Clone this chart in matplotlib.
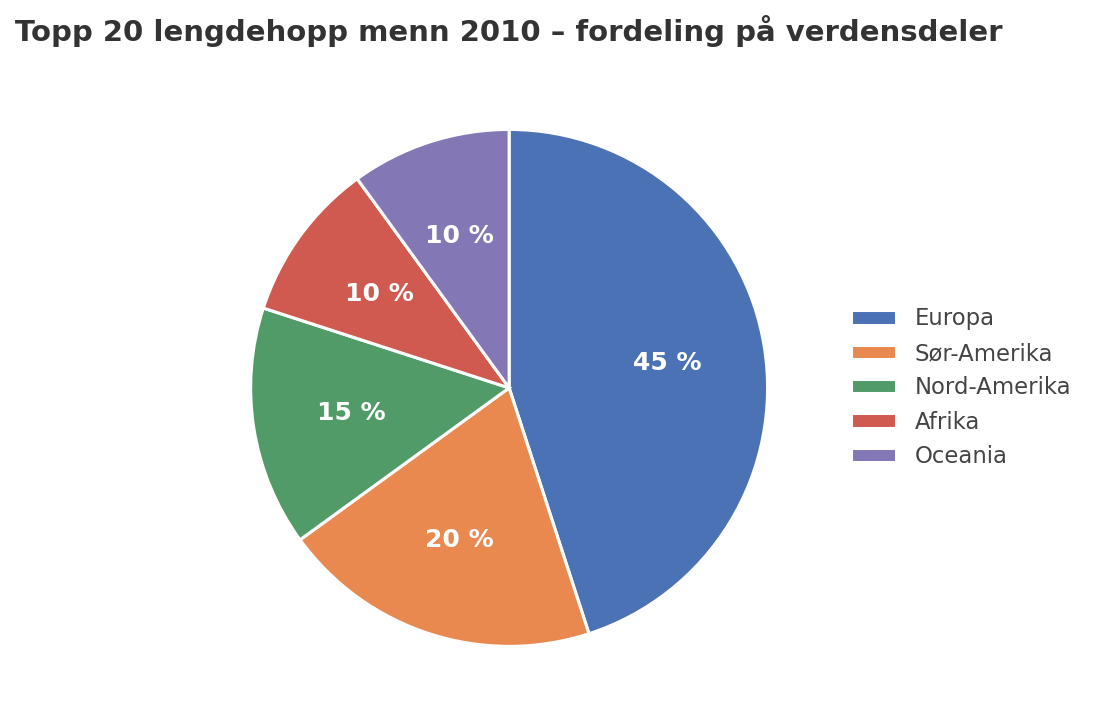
import matplotlib.pyplot as plt

# top 20 long jump men 2010, by continent
regions = ["Europa", "Sør-Amerika", "Nord-Amerika", "Afrika", "Oceania"]
counts = [9, 4, 3, 2, 2]

colors = ["#4A72B5", "#E9894F", "#519B68", "#D05A50", "#8377B6"]

fig = plt.figure(figsize=(10.97, 7.26), dpi=100)
ax = fig.add_axes([0.1696, 0.0207, 0.589, 0.89])

wedges, texts, autotexts = ax.pie(
    counts, colors=colors, startangle=90, counterclock=False,
    autopct=lambda p: "%d %%" % round(p), pctdistance=0.62,
    wedgeprops=dict(edgecolor="white", linewidth=2.2),
    textprops=dict(color="white", fontsize=18, fontweight="bold"))
ax.set_aspect("equal")

fig.text(0.014, 0.957, "Topp 20 lengdehopp menn 2010 – fordeling på verdensdeler",
         fontsize=21, fontweight="bold", color="#333333", ha="left", va="center")

fig.legend(wedges, regions, loc="center left", bbox_to_anchor=(0.757, 0.466),
           frameon=False, fontsize=16.4, labelcolor="#444444",
           handlelength=2.0, handleheight=0.6, labelspacing=0.5)

fig.savefig("out.png", dpi=100)
